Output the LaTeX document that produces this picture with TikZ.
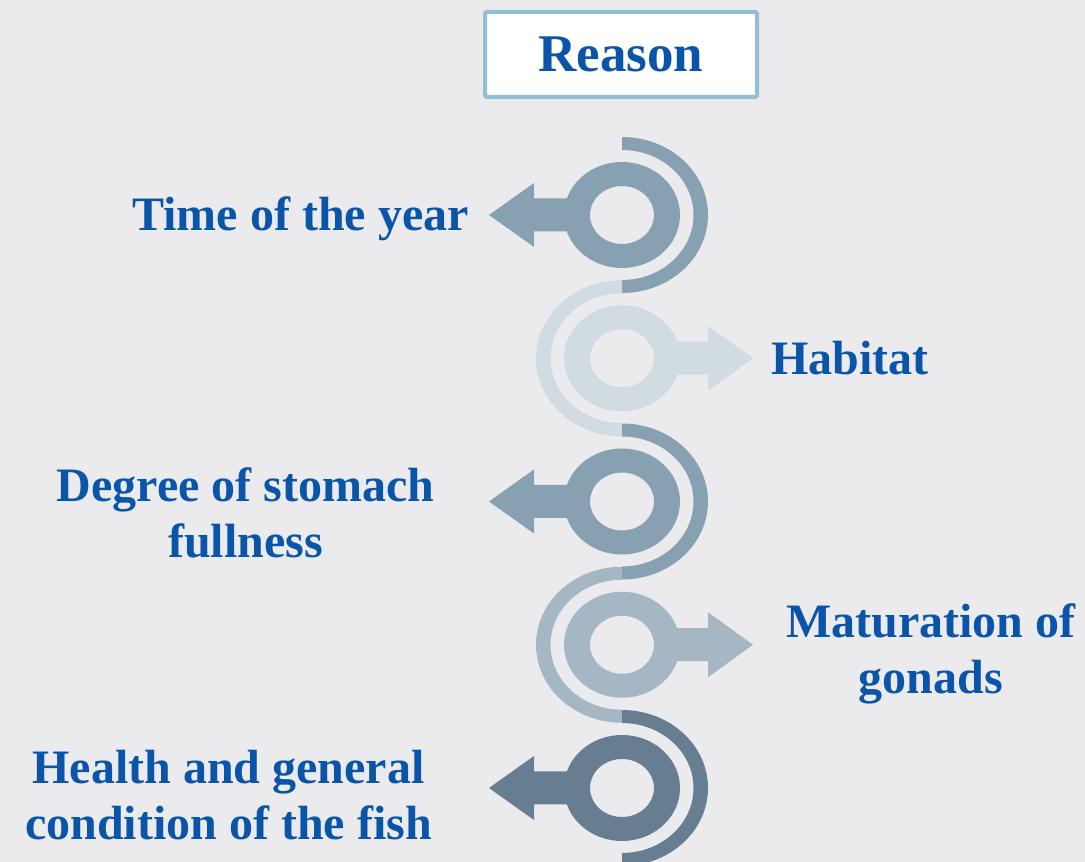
\documentclass[tikz,border=0pt]{standalone}
\usepackage{fontspec}
\setmainfont{Liberation Serif}
\usepackage{tikz}
\usetikzlibrary{positioning}
\definecolor{mybg}{RGB}{235,235,238}
\definecolor{myblue}{RGB}{11,85,168}
\definecolor{myframe}{RGB}{147,190,214}
\definecolor{myslate}{RGB}{135,160,178}
\definecolor{mypale}{RGB}{208,219,226}
\definecolor{mymist}{RGB}{165,183,197}
\definecolor{mydusk}{RGB}{103,126,146}
\tikzset{
  titlebox/.style={rectangle, draw=myframe, fill=white, line width=4pt,
    rounded corners=1.5pt, minimum width=272pt, minimum height=85pt,
    inner sep=0pt, text=myblue, font=\fontsize{53}{60}\selectfont\bfseries},
  reasontext/.style={align=center, inner sep=0pt, text=myblue,
    font=\fontsize{48}{56}\selectfont\bfseries},
  ring/.style={even odd rule}
}

\begin{document}
\begin{tikzpicture}[x=1pt, y=1pt]
  \useasboundingbox (0,0) rectangle (1085,862);
  \fill[mybg] (0,0) rectangle (1085,862);
  \clip (0,0) rectangle (1085,862);

  % Title
  \node[titlebox] (title) at (621,807.5) {Reason};

  % Ring centres
  \coordinate (r1) at (622,647);
  \coordinate (r2) at (622,503.75);
  \coordinate (r3) at (622,360.5);
  \coordinate (r4) at (622,217.25);
  \coordinate (r5) at (622,74);

  % Rings
  \fill[myslate, ring] (r1) ellipse [x radius=58pt, y radius=53pt] (r1) ellipse [x radius=32pt, y radius=29pt];
  \fill[mypale, ring] (r2) ellipse [x radius=58pt, y radius=53pt] (r2) ellipse [x radius=32pt, y radius=29pt];
  \fill[myslate, ring] (r3) ellipse [x radius=58pt, y radius=53pt] (r3) ellipse [x radius=32pt, y radius=29pt];
  \fill[mymist, ring] (r4) ellipse [x radius=58pt, y radius=53pt] (r4) ellipse [x radius=32pt, y radius=29pt];
  \fill[mydusk, ring] (r5) ellipse [x radius=58pt, y radius=53pt] (r5) ellipse [x radius=32pt, y radius=29pt];

  % Arrows
  \fill[myslate] (r1) ++(-37,16.5) -- ++(-51,0) -- ++(0,15.5) -- ++(-45,-32) -- ++(45,-32) -- ++(0,15.5) -- ++(51,0) -- cycle;
  \fill[mypale] (r2) ++(37,16.5) -- ++(49,0) -- ++(0,16) -- ++(45,-32.5) -- ++(-45,-32.5) -- ++(0,16) -- ++(-49,0) -- cycle;
  \fill[myslate] (r3) ++(-37,16.5) -- ++(-51,0) -- ++(0,15.5) -- ++(-45,-32) -- ++(45,-32) -- ++(0,15.5) -- ++(51,0) -- cycle;
  \fill[mymist] (r4) ++(37,16.5) -- ++(49,0) -- ++(0,16) -- ++(45,-32.5) -- ++(-45,-32.5) -- ++(0,16) -- ++(-49,0) -- cycle;
  \fill[mydusk] (r5) ++(-37,16.5) -- ++(-51,0) -- ++(0,15.5) -- ++(-45,-32) -- ++(45,-32) -- ++(0,15.5) -- ++(51,0) -- cycle;

  % Half arcs
  \fill[myslate] ([yshift=78pt]r1) arc[start angle=90, end angle=-90, x radius=86pt, y radius=78pt]
    -- ([yshift=-65pt]r1) arc[start angle=-90, end angle=90, x radius=71.5pt, y radius=65pt] -- cycle;
  \fill[mypale] ([yshift=78pt]r2) arc[start angle=90, end angle=270, x radius=86pt, y radius=78pt]
    -- ([yshift=-65pt]r2) arc[start angle=270, end angle=90, x radius=71.5pt, y radius=65pt] -- cycle;
  \fill[myslate] ([yshift=78pt]r3) arc[start angle=90, end angle=-90, x radius=86pt, y radius=78pt]
    -- ([yshift=-65pt]r3) arc[start angle=-90, end angle=90, x radius=71.5pt, y radius=65pt] -- cycle;
  \fill[mymist] ([yshift=78pt]r4) arc[start angle=90, end angle=270, x radius=86pt, y radius=78pt]
    -- ([yshift=-65pt]r4) arc[start angle=270, end angle=90, x radius=71.5pt, y radius=65pt] -- cycle;
  \fill[mydusk] ([yshift=78pt]r5) arc[start angle=90, end angle=-90, x radius=86pt, y radius=78pt]
    -- ([yshift=-65pt]r5) arc[start angle=-90, end angle=90, x radius=71.5pt, y radius=65pt] -- cycle;

  % Labels (base = last line)
  \node[reasontext, anchor=base] (year) at (300.5,631) {Time of the year};
  \node[reasontext, anchor=base] (habitat) at (850,487) {Habitat};
  \node[reasontext, anchor=base] (stomach) at (245.5,304) {Degree of stomach\\fullness};
  \node[reasontext, anchor=base] (gonads) at (931,168) {Maturation of\\gonads};
  \node[reasontext, anchor=base] (health) at (228.5,22) {Health and general\\condition of the fish};
\end{tikzpicture}
\end{document}
